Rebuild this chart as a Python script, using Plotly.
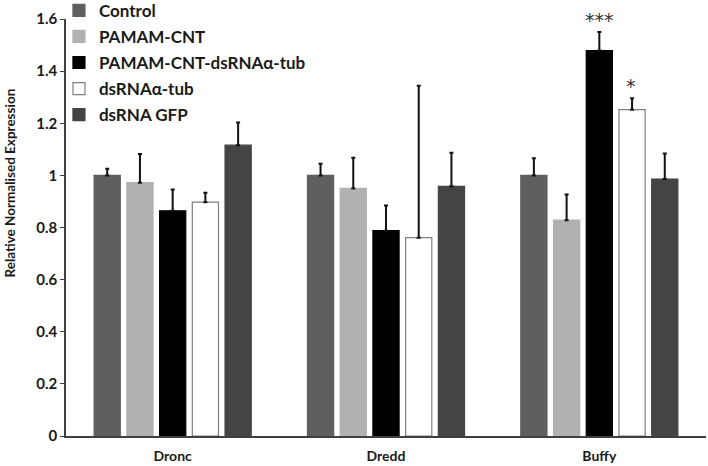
import plotly.graph_objects as go

categories = ["Dronc", "Dredd", "Buffy"]
series_names = ["Control", "PAMAM-CNT", "PAMAM-CNT-dsRNAα-tub", "dsRNAα-tub", "dsRNA GFP"]
control = [1.0, 1.0, 1.0]
pamam_cnt = [0.972, 0.95, 0.828]
pamam_cnt_ds = [0.864, 0.788, 1.479]
ds_tub = [0.897, 0.761, 1.252]
ds_gfp = [1.116, 0.958, 0.986]
err_control = [0.025, 0.045, 0.066]
err_pamam_cnt = [0.11, 0.118, 0.099]
err_pamam_cnt_ds = [0.082, 0.096, 0.071]
err_ds_tub = [0.036, 0.583, 0.044]
err_ds_gfp = [0.087, 0.129, 0.098]
y_ticks = [0, 0.2, 0.4, 0.6, 0.8, 1, 1.2, 1.4, 1.6]
y_tick_labels = ["0", "0.2", "0.4", "0.6", "0.8", "1", "1.2", "1.4", "1.6"]
y_title = "Relative Normalised Expression"
sig_labels = ["***", "*"]

values = [control, pamam_cnt, pamam_cnt_ds, ds_tub, ds_gfp]
errors = [err_control, err_pamam_cnt, err_pamam_cnt_ds, err_ds_tub, err_ds_gfp]
fills = ["#5f5f5f", "#b1b1b1", "#000000", "#ffffff", "#444444"]
outlines = ["#5f5f5f", "#b1b1b1", "#000000", "#7f7f7f", "#444444"]
FONT = "Lato"
TXT = "#1a1a1a"

fig = go.Figure()
for i, (name, v, e, fc, lc) in enumerate(zip(series_names, values, errors, fills, outlines)):
    fig.add_trace(go.Bar(
        x=categories, y=v, name=name, legendgroup=f"g{i}",
        marker=dict(color=fc, line=dict(color=lc, width=1.2)),
        error_y=dict(type="data", array=e, arrayminus=[0] * len(e), symmetric=False,
                     color="#111111", thickness=2, width=2),
    ))

# significance markers above Buffy bars
fig.add_annotation(x="Buffy", y=pamam_cnt_ds[2] + err_pamam_cnt_ds[2], text=sig_labels[0],
                   xref="x", yref="y", xshift=0, yshift=12, showarrow=False,
                   font=dict(size=19, color="#333333", family="DejaVu Sans"))
fig.add_annotation(x="Buffy", y=ds_tub[2] + err_ds_tub[2], text=sig_labels[1],
                   xref="x", yref="y", xshift=32, yshift=12, showarrow=False,
                   font=dict(size=19, color="#333333", family="DejaVu Sans"))

# y-axis title (placed as in the reference, not centred on the axis)
fig.add_annotation(x=-0.088, y=0.607, xref="paper", yref="paper", text=y_title,
                   textangle=-90, showarrow=False, xanchor="center", yanchor="middle",
                   font=dict(size=13.5, family=FONT, weight="bold", color=TXT))

fig.update_layout(
    width=708, height=466,
    margin=dict(l=66, r=2, t=19, b=30, autoexpand=False),
    plot_bgcolor="white", paper_bgcolor="white",
    barmode="group", bargap=0.233, bargroupgap=0.2,
    font=dict(family=FONT, color=TXT),
    showlegend=True,
    legend=dict(x=-0.011, y=1.063, xanchor="left", yanchor="top",
                font=dict(size=17, family=FONT, color=TXT, weight="bold"),
                bgcolor="rgba(0,0,0,0)", tracegroupgap=1, itemwidth=30),
)
fig.update_xaxes(showline=True, linecolor="#404040", linewidth=1.5, ticks="",
                 tickfont=dict(size=14, family=FONT, weight="bold", color=TXT),
                 ticklabelstandoff=6)
fig.update_yaxes(range=[0, 1.6], tickvals=y_ticks, ticktext=y_tick_labels,
                 showline=True, linecolor="#404040", linewidth=1.5, showgrid=False,
                 ticks="outside", ticklen=4, tickcolor="#404040", zeroline=False,
                 tickfont=dict(size=15, family=FONT, weight="bold", color=TXT))

fig.write_html("out.html", config={"displayModeBar": False},
               post_script="document.body.style.margin='0';")
